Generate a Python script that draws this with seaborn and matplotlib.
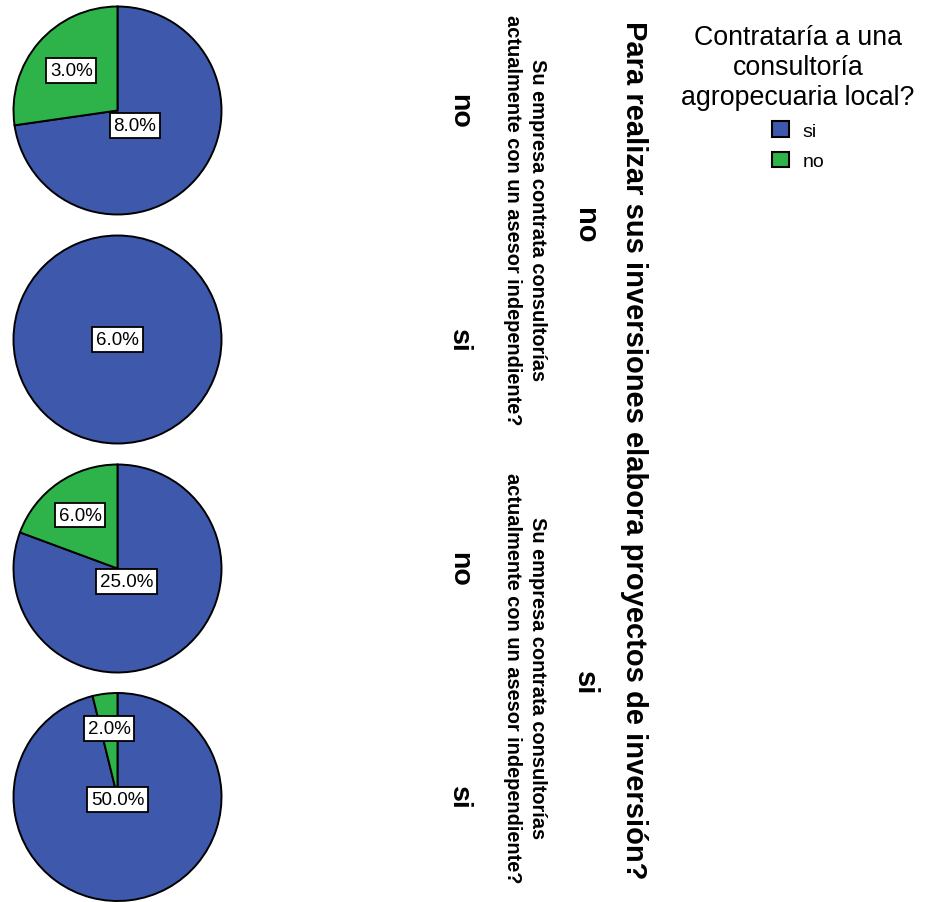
import numpy as np
import matplotlib
matplotlib.use("Agg")
import matplotlib.pyplot as plt
from matplotlib.patches import Patch
import seaborn as sns

# ---- data ----
outer_title = "Para realizar sus inversiones elabora proyectos de inversión?"
outer_cats = ["no", "no", "si", "si"]
inner_title = "Su empresa contrata consultorías\nactualmente con un asesor independiente?"
inner_cats = ["no", "si", "no", "si"]
legend_title = "Contrataría a una\nconsultoría\nagropecuaria local?"
series_names = ["si", "no"]
si_vals = [8.0, 6.0, 25.0, 50.0]
no_vals = [3.0, 0.0, 6.0, 2.0]

sns.set_theme(style="white")
plt.rcParams["font.family"] = ["Liberation Sans", "DejaVu Sans"]
plt.rcParams["text.color"] = "black"
plt.rcParams["legend.labelcolor"] = "black"

colors = {"si": "#3E58AC", "no": "#2DB34A"}

W, H = 926, 903
fig = plt.figure(figsize=(W / 100, H / 100), dpi=100)
fig.patch.set_facecolor("white")

def fx(px):
    return px / W

def fy(py):
    return 1 - py / H

cx, r = 117.5, 104
centers = [111.5, 340.5, 569.5, 798]

for i, cy in enumerate(centers):
    ax = fig.add_axes([fx(cx - r), fy(cy + r), 2 * r / W, 2 * r / H])
    vals, cols = [], []
    for name, arr in zip(series_names, [si_vals, no_vals]):
        if arr[i] > 0:
            vals.append(arr[i])
            cols.append(colors[name])
    wedges, _ = ax.pie(vals, colors=cols, startangle=90, counterclock=False,
                       wedgeprops=dict(edgecolor="black", linewidth=1.4))
    for w in wedges:
        w.set_clip_on(False)
    ax.set_xlim(-1, 1)
    ax.set_ylim(-1, 1)
    ax.set_axis_off()
    for w, v in zip(wedges, vals):
        span = np.radians(w.theta2 - w.theta1)
        mid = np.radians((w.theta1 + w.theta2) / 2)
        d = 0.0 if span >= 2 * np.pi - 1e-9 else 4 * np.sin(span / 2) / (3 * span)
        ax.text(d * np.cos(mid), d * np.sin(mid), f"{v:.1f}%", ha="center", va="center",
                fontsize=13.5, color="black",
                bbox=dict(boxstyle="square,pad=0.2", fc="white", ec="black", lw=1.3))

# rotated titles
fig.text(fx(634), fy(450), outer_title, rotation=-90, ha="center", va="center",
         rotation_mode="anchor", fontsize=21, fontweight="bold")
outer_pos = [225.5, 683.5]
for lab, py in zip([outer_cats[0], outer_cats[2]], outer_pos):
    fig.text(fx(585), fy(py), lab, rotation=-90, ha="center", va="center",
             rotation_mode="anchor", fontsize=21, fontweight="bold")
    fig.text(fx(525), fy(py - 5), inner_title, rotation=-90, ha="center", va="center",
             rotation_mode="anchor", fontsize=14.4, fontweight="bold", linespacing=1.35,
             multialignment="center")
for lab, py in zip(inner_cats, centers):
    fig.text(fx(459), fy(py), lab, rotation=-90, ha="center", va="center",
             rotation_mode="anchor", fontsize=20.5, fontweight="bold")

# legend
handles = [Patch(facecolor=colors[n], edgecolor="black", linewidth=1.5) for n in series_names]
leg = fig.legend(handles, series_names, title=legend_title, loc="upper center",
                 bbox_to_anchor=(fx(798), fy(15)), frameon=False, alignment="center",
                 fontsize=14, title_fontsize=19.3, handlelength=0.85, handleheight=0.85,
                 handletextpad=0.7, labelspacing=0.6, borderpad=0)
leg.get_title().set_multialignment("center")
leg.get_title().set_linespacing(1.2)
leg.get_title().set_color("black")

fig.savefig("out.png", dpi=100)
